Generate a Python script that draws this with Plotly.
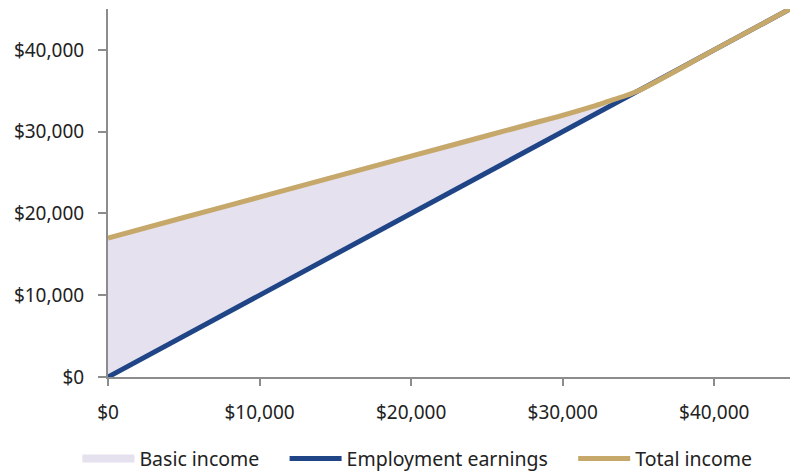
import plotly.graph_objects as go

earnings = [0, 5000, 10000, 15000, 20000, 25000, 28000, 30000, 32000, 33000, 34000, 35000, 40000, 45000]
employment = [0, 5000, 10000, 15000, 20000, 25000, 28000, 30000, 32000, 33000, 34000, 35000, 40000, 45000]
total = [17000, 19500, 22000, 24500, 27000, 29500, 31000, 32000, 33100, 33700, 34300, 35000, 40000, 45000]

x_ticks = [0, 10000, 20000, 30000, 40000]
x_labels = ["$0", "$10,000", "$20,000", "$30,000", "$40,000"]
y_ticks = [0, 10000, 20000, 30000, 40000]
y_labels = ["$0", "$10,000", "$20,000", "$30,000", "$40,000"]

BLUE = "#1F4586"
GOLD = "#C6A96A"
FILL = "#E6E1EE"
PAD = "\u00a0" * 4

fig = go.Figure()
fig.add_trace(go.Scatter(x=earnings, y=employment, mode="lines", line=dict(width=0, color=FILL),
                         showlegend=False, hoverinfo="skip"))
fig.add_trace(go.Scatter(x=earnings, y=total, mode="lines", line=dict(width=4, color=FILL),
                         fill="tonexty", fillcolor=FILL, name="Basic income" + PAD))
fig.add_trace(go.Scatter(x=earnings, y=employment, mode="lines", line=dict(width=5, color=BLUE),
                         name="Employment earnings" + PAD))
fig.add_trace(go.Scatter(x=earnings, y=total, mode="lines", line=dict(width=5, color=GOLD, shape="spline", smoothing=0.8),
                         name="Total income"))

fig.update_layout(
    width=790, height=472,
    margin=dict(l=108, r=0, t=9, b=95),
    paper_bgcolor="white", plot_bgcolor="white",
    font=dict(family="Noto Sans, Open Sans, sans-serif", size=19, color="#222222"),
    showlegend=True,
    legend=dict(orientation="h", xref="container", yref="container", x=0.098, xanchor="left",
                y=0.028, yanchor="middle", traceorder="normal",
                itemwidth=52, font=dict(size=19.5), tracegroupgap=0),
    xaxis=dict(range=[0, 45000], tickvals=x_ticks, ticktext=x_labels, showgrid=False, zeroline=False,
               showline=True, linecolor="#8C8C8C", linewidth=2, ticks="outside", ticklen=7,
               tickcolor="#8C8C8C", tickwidth=2, ticklabelstandoff=10),
    yaxis=dict(range=[0, 45000], tickvals=y_ticks, ticktext=y_labels, showgrid=False, zeroline=False,
               showline=True, linecolor="#8C8C8C", linewidth=2, ticks="outside", ticklen=8,
               tickcolor="#8C8C8C", tickwidth=2, ticklabelstandoff=10),
)

fig.write_html("out.html", config={"displayModeBar": False},
               post_script="document.body.style.margin='0';document.body.style.padding='0';")
